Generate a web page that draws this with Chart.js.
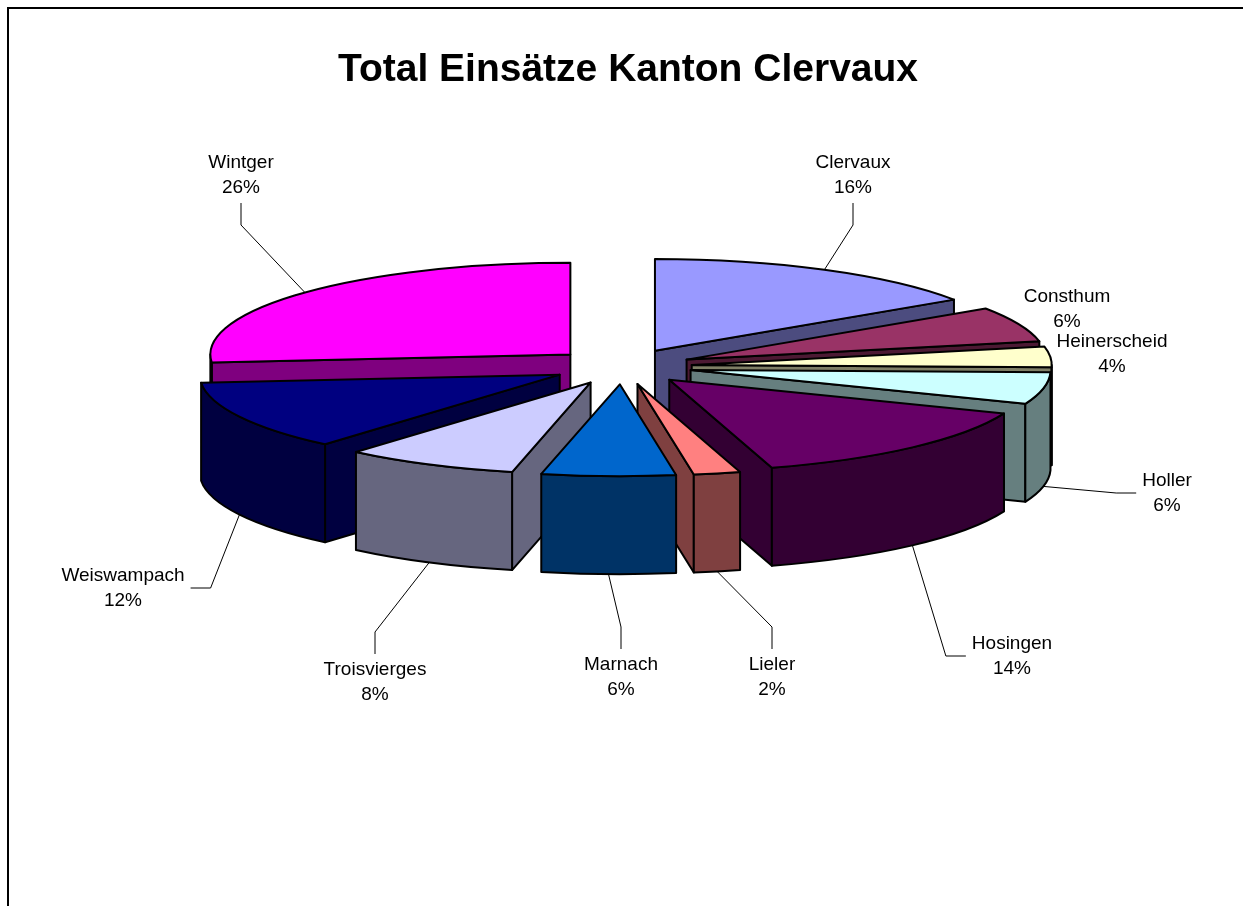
<!DOCTYPE html>
<html>
<head>
<meta charset="utf-8">
<title>Total Einsätze Kanton Clervaux</title>
<script src="https://cdn.jsdelivr.net/npm/chart.js@4.4.1/dist/chart.umd.min.js"></script>
<style>
  html, body { margin: 0; padding: 0; background: #fff; }
  canvas { display: block; }
</style>
</head>
<body>
<canvas id="pieChart" width="1243" height="906"></canvas>
<script>
const title = 'Total Einsätze Kanton Clervaux';
const communes = ['Clervaux', 'Consthum', 'Heinerscheid', 'Holler', 'Hosingen',
    'Lieler', 'Marnach', 'Troisvierges', 'Weiswampach', 'Wintger'];
// share of all interventions, % (labels show them rounded)
const shares = [15.6, 6.2, 3.6, 5.6, 14.4, 2.1, 6.0, 7.8, 12.3, 26.4];
const topColors = ['#9999FF', '#993366', '#FFFFCC', '#CCFFFF', '#660066',
    '#FF8080', '#0066CC', '#CCCCFF', '#000080', '#FF00FF'];
// centre of each two-line data label, where Excel left them
const labelAt = [[853, 175], [1067, 309], [1112, 354], [1167, 493], [1012, 656],
    [772, 677], [621, 677], [375, 682], [123, 588], [241, 175]];

const TILT = 0.255;   // vertical squash of the pie top
const DEPTH = 98;     // height of the pie walls
const FONT = '"Liberation Sans", Arial, sans-serif';

function darker(hex) {
    const n = parseInt(hex.slice(1), 16);
    return `rgb(${(n >> 16) >> 1}, ${((n >> 8) & 255) >> 1}, ${(n & 255) >> 1})`;
}

function sliceGeom(arc) {
    const p = arc.getProps(['x', 'y', 'startAngle', 'endAngle', 'outerRadius']);
    const mid = (p.startAngle + p.endAngle) / 2;
    const off = arc.options.offset || 0;
    return {
        a0: p.startAngle, a1: p.endAngle, mid, r: p.outerRadius,
        ox: p.x + Math.cos(mid) * off,
        oy: p.y + Math.sin(mid) * off * TILT
    };
}

function drawSlice(ctx, s, top, side) {
    const { ox, oy, r, a0, a1 } = s;
    const ry = r * TILT;
    ctx.lineWidth = 2;
    ctx.strokeStyle = '#000';
    ctx.lineJoin = 'round';

    // flat cut faces turned towards the viewer
    [[a0, Math.cos(a0) < 0], [a1, Math.cos(a1) > 0]].forEach(([a, shown]) => {
        if (!shown) return;
        const x = ox + r * Math.cos(a), y = oy + ry * Math.sin(a);
        ctx.beginPath();
        ctx.moveTo(ox, oy);
        ctx.lineTo(x, y);
        ctx.lineTo(x, y + DEPTH);
        ctx.lineTo(ox, oy + DEPTH);
        ctx.closePath();
        ctx.fillStyle = side;
        ctx.fill();
        ctx.stroke();
    });

    // rounded wall on the near half
    const s0 = Math.max(a0, 0), s1 = Math.min(a1, Math.PI);
    if (s1 > s0) {
        ctx.beginPath();
        ctx.ellipse(ox, oy, r, ry, 0, s0, s1);
        ctx.ellipse(ox, oy + DEPTH, r, ry, 0, s1, s0, true);
        ctx.closePath();
        ctx.fillStyle = side;
        ctx.fill();
        ctx.stroke();
    }

    ctx.beginPath();
    ctx.moveTo(ox, oy);
    ctx.ellipse(ox, oy, r, ry, 0, a0, a1);
    ctx.closePath();
    ctx.fillStyle = top;
    ctx.fill();
    ctx.stroke();
}

function drawLabels(ctx, slices, total) {
    ctx.font = `19px ${FONT}`;
    ctx.fillStyle = '#000';
    ctx.textAlign = 'center';
    ctx.textBaseline = 'middle';
    slices.forEach(s => {
        const [lx, ly] = labelAt[s.i];
        const name = communes[s.i];
        const pct = Math.round(shares[s.i] / total * 100) + '%';
        ctx.fillText(name, lx, ly - 12);
        ctx.fillText(pct, lx, ly + 13);

        // leader line back to the slice rim
        const front = Math.sin(s.mid) > 0;
        const ax = s.ox + s.r * Math.cos(s.mid);
        const ay = s.oy + s.r * TILT * Math.sin(s.mid) + (front ? DEPTH : 0);
        const dx = ax - lx, dy = ay - ly;
        if (Math.hypot(dx, dy) < 80) return;
        let start, elbow;
        if (Math.abs(dx) > 0.9 * Math.abs(dy)) {
            const half = Math.max(ctx.measureText(name).width, ctx.measureText(pct).width) / 2;
            const sx = lx + Math.sign(dx) * (half + 6);
            start = [sx, ly];
            elbow = [sx + Math.sign(dx) * 20, ly];
        } else {
            start = [lx, ly + Math.sign(dy) * 28];
            elbow = [lx, ly + Math.sign(dy) * 50];
        }
        ctx.beginPath();
        ctx.lineWidth = 1;
        ctx.moveTo(start[0], start[1]);
        ctx.lineTo(elbow[0], elbow[1]);
        ctx.lineTo(ax, ay);
        ctx.stroke();
    });
}

const pie3d = {
    id: 'pie3d',
    beforeDraw(chart) {
        const { ctx, width, height } = chart;
        ctx.save();
        ctx.fillStyle = '#fff';
        ctx.fillRect(0, 0, width, height);
        ctx.strokeStyle = '#000';
        ctx.lineWidth = 2;
        ctx.strokeRect(8, 8, width + 20, height + 20);
        ctx.fillStyle = '#000';
        ctx.font = `bold 39px ${FONT}`;
        ctx.textAlign = 'center';
        ctx.textBaseline = 'middle';
        ctx.fillText(title, 628, 70);
        ctx.restore();
    },
    beforeDatasetsDraw(chart) {
        const ctx = chart.ctx;
        const total = shares.reduce((a, b) => a + b, 0);
        const slices = chart.getDatasetMeta(0).data.map((arc, i) => ({ i, ...sliceGeom(arc) }));
        ctx.save();
        [...slices]
            .sort((a, b) => Math.sin(a.mid) - Math.sin(b.mid))
            .forEach(s => drawSlice(ctx, s, topColors[s.i], darker(topColors[s.i])));
        drawLabels(ctx, slices, total);
        ctx.restore();
        return false;
    }
};

new Chart(document.getElementById('pieChart'), {
    type: 'pie',
    data: {
        labels: communes,
        datasets: [{
            data: shares,
            backgroundColor: topColors,
            borderColor: '#000',
            borderWidth: 2,
            offset: 70
        }]
    },
    options: {
        responsive: false,
        animation: false,
        events: [],
        radius: 360,
        layout: { padding: { left: 1, right: 0, top: 0, bottom: 173 } },
        plugins: {
            legend: { display: false },
            tooltip: { enabled: false },
            title: { display: false }
        }
    },
    plugins: [pie3d]
});
</script>
</body>
</html>
